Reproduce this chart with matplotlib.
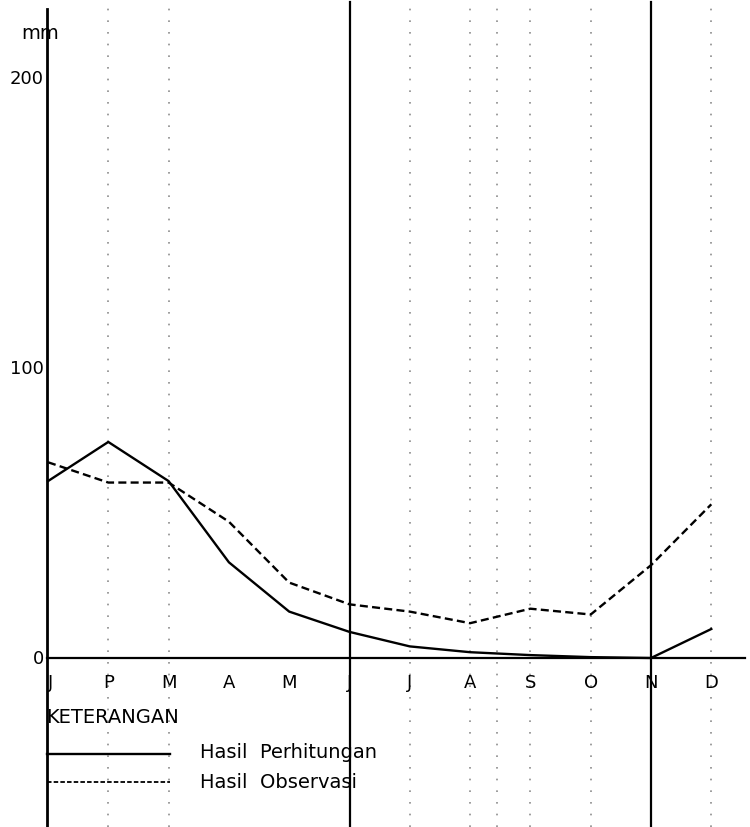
import numpy as np
import matplotlib
matplotlib.use("Agg")
import matplotlib.pyplot as plt

# data (mm per month)
bulan = ["J", "P", "M", "A", "M", "J", "J", "A", "S", "O", "N", "D"]
hasil_perhitungan = [61, 74.5, 61, 33, 16, 9, 4, 2, 1, 0.3, 0, 10]
hasil_observasi = [67.5, 60.5, 60.5, 47, 26, 18.5, 16, 12, 17, 15, 32, 53]
y_ticks = [0, 100, 200]

# scan artefacts (fold lines and dotted streaks), in month units
garis_lipat = [5, 10]
garis_titik = [1, 2, 6, 7, 7.45, 8, 9, 11]

W, H = 750, 828
fig = plt.figure(figsize=(W / 100, H / 100), dpi=100)
ax = fig.add_axes([0, 0, 1, 1])

# pixel layout: month i at x = 48 + 60.3*i, zero at y = 659, 2.9 px per mm
x0, dx = 48, 60.3
y0, dy = 659, 2.9
ax.set_xlim((0 - x0) / dx, (W - x0) / dx)
ax.set_ylim((y0 - H) / dy, y0 / dy)
ax.axis("off")

def px(x):
    return (x - x0) / dx

def py(y):
    return (y0 - y) / dy

ymin = ax.get_ylim()[0]

# artefacts
for xv in garis_lipat:
    ax.plot([xv, xv], [ymin, py(3)], color="black", lw=1.6, zorder=1)
for xv in garis_titik:
    ax.plot([xv, xv], [ymin, py(5)], color="0.25", lw=1.2,
            dashes=(1.0, 6.0), alpha=0.6, zorder=1)

# axes
ax.plot([px(47), px(47)], [ymin, py(10)], color="black", lw=2, zorder=3)
ax.plot([px(47), px(745)], [0, 0], color="black", lw=1.6, zorder=3)

x = np.arange(len(bulan))
ax.plot(x, hasil_perhitungan, color="black", lw=1.7, zorder=4)
ax.plot(x, hasil_observasi, color="black", lw=1.7, dashes=(3.4, 1.8), zorder=4)

font = "DejaVu Sans"
for v in y_ticks:
    ax.text(px(44), v, str(v), ha="right", va="center", fontsize=13,
            family=font)
ax.text(px(40), py(34), "mm", ha="center", va="center", fontsize=14,
        family=font, zorder=5)

for i, b in enumerate(bulan):
    ax.text(i + (0.05 if i == 0 else 0), py(683), b, ha="center", va="center",
            fontsize=13, family=font, zorder=5)

# keterangan
ax.text(px(46), py(718), "KETERANGAN", ha="left", va="center", fontsize=14,
        family=font, zorder=5)
ax.plot([px(47), px(170)], [py(755), py(755)], color="black", lw=1.7)
ax.plot([px(47), px(170)], [py(783), py(783)], color="black", lw=1.3,
        dashes=(2.5, 1.2))
ax.text(px(200), py(753), "Hasil  Perhitungan", ha="left", va="center",
        fontsize=14, family=font)
ax.text(px(200), py(783), "Hasil  Observasi", ha="left", va="center",
        fontsize=14, family=font)

fig.savefig("out.png", dpi=100, facecolor="white")
